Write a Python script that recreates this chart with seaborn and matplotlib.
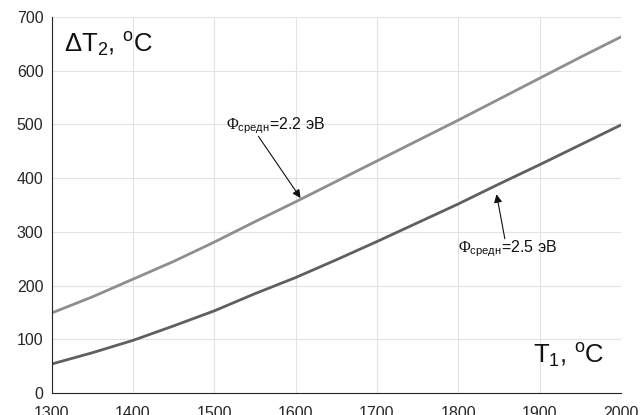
import numpy as np
import pandas as pd
import matplotlib
matplotlib.use("Agg")
import matplotlib.pyplot as plt
import seaborn as sns

# data
t1 = [1300, 1350, 1400, 1450, 1500, 1550, 1600, 1650,
      1700, 1750, 1800, 1850, 1900, 1950, 2000]
dt2_phi22 = [149, 179, 212, 245, 281, 319, 356, 394,
             432, 470, 508, 547, 586, 625, 663]
dt2_phi25 = [54, 75, 98, 125, 153, 185, 215, 248,
             282, 317, 352, 389, 425, 462, 499]
x_ticks = [1300, 1400, 1500, 1600, 1700, 1800, 1900, 2000]
y_ticks = [0, 100, 200, 300, 400, 500, 600, 700]

sns.set_style("white")
plt.rcParams['font.family'] = ['Liberation Sans', 'DejaVu Sans']
plt.rcParams['mathtext.fontset'] = 'custom'
plt.rcParams['mathtext.rm'] = 'Liberation Sans'
plt.rcParams['mathtext.it'] = 'Liberation Sans'
plt.rcParams['mathtext.sf'] = 'Liberation Serif'

df = pd.DataFrame({
    'T1': t1 + t1,
    'dT2': dt2_phi22 + dt2_phi25,
    'phi': ['2.2'] * len(t1) + ['2.5'] * len(t1),
})

fig = plt.figure(figsize=(6.41, 4.15), dpi=100)
ax = fig.add_axes([0.0807, 0.053, 0.888, 0.906])

sns.lineplot(data=df, x='T1', y='dT2', hue='phi',
             palette={'2.2': '#8e8e8e', '2.5': '#5f5f5f'},
             linewidth=2.0, legend=False, ax=ax)

ax.set_xlim(1300, 2000)
ax.set_ylim(0, 700)
ax.set_xticks(x_ticks)
ax.set_yticks(y_ticks)
ax.grid(True, color='#e3e3e3', linewidth=0.8)
ax.set_axisbelow(True)
ax.set_xlabel('')
ax.set_ylabel('')

for s in ['top', 'right']:
    ax.spines[s].set_visible(False)
for s in ['left', 'bottom']:
    ax.spines[s].set_color('#262626')
    ax.spines[s].set_linewidth(0.8)

ax.tick_params(axis='both', direction='in', length=4, width=0.8,
               color='#262626', labelsize=11.5, labelcolor='#262626')
ax.tick_params(axis='x', pad=9)
ax.tick_params(axis='y', pad=6)

# axis captions inside the plot
ax.text(0.022, 0.905, r'ΔT$_2$, $^{\mathrm{o}}$C', transform=ax.transAxes,
        fontsize=18.5, color='#111111', ha='left', va='baseline')
ax.text(0.845, 0.077, r'T$_1$, $^{\mathrm{o}}$C', transform=ax.transAxes,
        fontsize=18.5, color='#111111', ha='left', va='baseline')

# annotations with arrows
ax.annotate(r'$\mathsf{\Phi}_{\mathrm{средн}}$=2.2 эВ',
            xy=(1606, 363), xytext=(1514, 497),
            fontsize=11.5, color='#111111', ha='left', va='center',
            arrowprops=dict(arrowstyle='-|>', color='#111111', lw=0.8,
                            mutation_scale=12, shrinkA=0, shrinkB=0,
                            patchA=None, relpos=(0.33, 0.0)))
ax.annotate(r'$\mathsf{\Phi}_{\mathrm{средн}}$=2.5 эВ',
            xy=(1847, 370), xytext=(1800, 268),
            fontsize=11.5, color='#111111', ha='left', va='center',
            arrowprops=dict(arrowstyle='-|>', color='#111111', lw=0.8,
                            mutation_scale=12, shrinkA=0, shrinkB=0,
                            patchA=None, relpos=(0.47, 1.0)))

fig.savefig('out.png', dpi=100)
